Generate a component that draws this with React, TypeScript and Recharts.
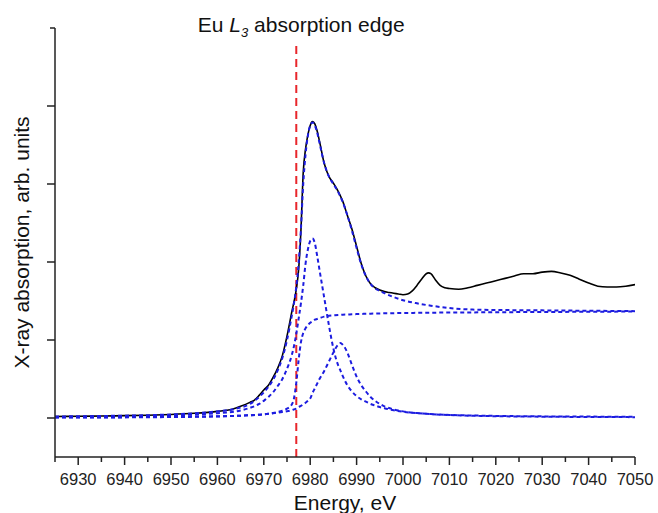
import React from "react";
import { Line, LineChart, ReferenceLine, XAxis, YAxis } from "recharts";

// measured spectrum (black)
const expE = [6925, 6930, 6935, 6940, 6945, 6950, 6955, 6960, 6963, 6965, 6967, 6968, 6969, 6970, 6971, 6972, 6973, 6974, 6975, 6976, 6977, 6977.5, 6978, 6978.5, 6979, 6979.5, 6980, 6980.5, 6981, 6981.5, 6982, 6983, 6984, 6985, 6986, 6987, 6988, 6989, 6990, 6991, 6992, 6993, 6994, 6995, 6996, 6997, 6998, 6999, 7000, 7001, 7002, 7003, 7004, 7005, 7005.5, 7006, 7007, 7008, 7009, 7010, 7012, 7014, 7016, 7018, 7020, 7022, 7024, 7026, 7028, 7030, 7032, 7034, 7036, 7038, 7040, 7042, 7044, 7046, 7048, 7050];
const expMu = [0.02, 0.022, 0.025, 0.03, 0.035, 0.045, 0.06, 0.085, 0.11, 0.15, 0.2, 0.23, 0.29, 0.36, 0.42, 0.52, 0.64, 0.8, 1.05, 1.35, 1.65, 1.9, 2.4, 3.15, 3.45, 3.63, 3.75, 3.8, 3.77, 3.68, 3.55, 3.27, 3.1, 3.01, 2.91, 2.78, 2.6, 2.42, 2.2, 1.98, 1.82, 1.72, 1.67, 1.64, 1.62, 1.61, 1.6, 1.59, 1.58, 1.59, 1.63, 1.7, 1.78, 1.85, 1.86, 1.85, 1.77, 1.7, 1.67, 1.66, 1.65, 1.67, 1.7, 1.73, 1.76, 1.79, 1.82, 1.85, 1.85, 1.87, 1.88, 1.86, 1.83, 1.78, 1.73, 1.69, 1.68, 1.68, 1.69, 1.71];

// fit components (blue dashed)
const fitE = [6925, 6930, 6935, 6940, 6945, 6950, 6955, 6960, 6964, 6967, 6969, 6970, 6971, 6972, 6973, 6974, 6975, 6976, 6976.5, 6977, 6977.5, 6978, 6978.5, 6979, 6979.5, 6980, 6980.5, 6981, 6981.5, 6982, 6983, 6984, 6985, 6986, 6986.5, 6987, 6988, 6989, 6990, 6991, 6992, 6993, 6994, 6995, 6996, 6998, 7000, 7003, 7006, 7010, 7015, 7020, 7030, 7040, 7050];
const fitTotal = [0.02, 0.022, 0.026, 0.03, 0.036, 0.045, 0.06, 0.085, 0.12, 0.18, 0.27, 0.33, 0.4, 0.49, 0.61, 0.77, 1.0, 1.3, 1.47, 1.68, 1.98, 2.42, 3.0, 3.38, 3.62, 3.75, 3.79, 3.75, 3.66, 3.53, 3.27, 3.1, 3.0, 2.9, 2.84, 2.77, 2.6, 2.4, 2.18, 1.97, 1.82, 1.72, 1.66, 1.63, 1.6, 1.55, 1.51, 1.47, 1.44, 1.41, 1.39, 1.385, 1.38, 1.375, 1.37];
const fitPeak1 = [0.012, 0.014, 0.017, 0.021, 0.026, 0.033, 0.044, 0.062, 0.085, 0.13, 0.18, 0.22, 0.27, 0.33, 0.41, 0.5, 0.63, 0.8, 0.92, 1.08, 1.27, 1.47, 1.7, 1.98, 2.16, 2.27, 2.3, 2.24, 2.08, 1.9, 1.55, 1.2, 0.89, 0.68, 0.61, 0.54, 0.42, 0.34, 0.28, 0.24, 0.21, 0.18, 0.16, 0.14, 0.125, 0.1, 0.08, 0.062, 0.05, 0.04, 0.032, 0.027, 0.021, 0.018, 0.016];
const fitPeak2 = [0.005, 0.006, 0.007, 0.008, 0.01, 0.012, 0.015, 0.02, 0.027, 0.035, 0.042, 0.047, 0.053, 0.06, 0.067, 0.076, 0.087, 0.1, 0.11, 0.12, 0.14, 0.155, 0.175, 0.195, 0.22, 0.25, 0.32, 0.38, 0.44, 0.5, 0.6, 0.72, 0.84, 0.94, 0.96, 0.94, 0.84, 0.68, 0.53, 0.42, 0.34, 0.27, 0.22, 0.18, 0.15, 0.11, 0.085, 0.063, 0.05, 0.038, 0.029, 0.023, 0.017, 0.013, 0.011];
const fitStep = [0.008, 0.009, 0.01, 0.011, 0.013, 0.015, 0.018, 0.022, 0.028, 0.035, 0.042, 0.047, 0.055, 0.065, 0.078, 0.095, 0.12, 0.17, 0.25, 0.45, 0.74, 0.97, 1.09, 1.15, 1.19, 1.22, 1.24, 1.26, 1.27, 1.28, 1.3, 1.31, 1.315, 1.32, 1.322, 1.325, 1.327, 1.33, 1.332, 1.334, 1.336, 1.338, 1.34, 1.341, 1.342, 1.344, 1.346, 1.348, 1.35, 1.352, 1.354, 1.356, 1.359, 1.362, 1.365];

const xTicks = [6925, 6930, 6935, 6940, 6945, 6950, 6955, 6960, 6965, 6970, 6975, 6980, 6985, 6990, 6995, 7000, 7005, 7010, 7015, 7020, 7025, 7030, 7035, 7040, 7045, 7050];
const yTicks = [0, 1, 2, 3, 4, 5];
const edgeEnergy = 6977;

const expData = expE.map((e, i) => ({ e, mu: expMu[i] }));
const toSeries = (vals: number[]) => fitE.map((e, i) => ({ e, v: vals[i] }));

const FONT = "'Liberation Sans', Arial, sans-serif";
const BLUE = "#1c1ce0";

function XTick({ x, y, payload }: any) {
  const major = payload.value % 10 === 0;
  return (
    <g>
      <line x1={x} y1={y} x2={x} y2={y + (major ? 8 : 5)} stroke="#222" strokeWidth={1.5} />
      {major && (
        <text x={x} y={y + 28} textAnchor="middle" fontSize={16.5} fill="#222" fontFamily={FONT}>
          {payload.value}
        </text>
      )}
    </g>
  );
}

function YTick({ x, y, payload }: any) {
  const len = payload.value === 5 ? 5 : 8;
  return <line x1={x} y1={y} x2={x - len} y2={y} stroke="#222" strokeWidth={1.5} />;
}

function TitleLabel({ viewBox }: any) {
  return (
    <text x={viewBox.x + 5} y={viewBox.y - 10} textAnchor="middle" fontSize={21} fill="#111" fontFamily={FONT}>
      Eu{" "}
      <tspan fontStyle="italic">L</tspan>
      <tspan fontStyle="italic" fontSize={13} dy={5}>3</tspan>
      <tspan dy={-5}> absorption edge</tspan>
    </text>
  );
}

export default function App() {
  return (
    <div style={{ width: 658, height: 513, background: "#fff" }}>
      <style>{"body{margin:0}"}</style>
      <LineChart width={658} height={513} margin={{ top: 28, right: 23, bottom: 0, left: 0 }}>
        <XAxis
          type="number"
          dataKey="e"
          domain={[6925, 7050]}
          allowDataOverflow
          ticks={xTicks}
          interval={0}
          tickSize={0}
          tickMargin={0}
          tickLine={false}
          tick={<XTick />}
          height={56}
          stroke="#222"
          strokeWidth={1.5}
          label={{
            content: ({ viewBox }: any) => (
              <text x={viewBox.x + viewBox.width / 2} y={viewBox.y + 53} textAnchor="middle" fontSize={21} fill="#111" fontFamily={FONT}>
                Energy, eV
              </text>
            ),
          }}
        />
        <YAxis
          type="number"
          domain={[-0.5, 5]}
          allowDataOverflow
          ticks={yTicks}
          interval={0}
          tickSize={0}
          tickMargin={0}
          tickLine={false}
          tick={<YTick />}
          width={55}
          stroke="#222"
          strokeWidth={1.5}
          label={{
            content: ({ viewBox }: any) => (
              <text
                transform={`translate(${viewBox.x + 21}, ${viewBox.y + viewBox.height / 2}) rotate(-90)`}
                textAnchor="middle"
                dominantBaseline="central"
                fontSize={21}
                fill="#111"
                fontFamily={FONT}
              >
                X-ray absorption, arb. units
              </text>
            ),
          }}
        />
        <ReferenceLine
          segment={[{ x: edgeEnergy, y: -0.5 }, { x: edgeEnergy, y: 4.82 }]}
          stroke="#e8262b"
          strokeWidth={2}
          strokeDasharray="8 5"
          label={<TitleLabel />}
        />
        <Line data={expData} dataKey="mu" type="monotone" stroke="#000" strokeWidth={1.6} dot={false} isAnimationActive={false} />
        <Line data={toSeries(fitStep)} dataKey="v" type="monotone" stroke={BLUE} strokeWidth={2} strokeDasharray="4 3" dot={false} isAnimationActive={false} />
        <Line data={toSeries(fitPeak2)} dataKey="v" type="monotone" stroke={BLUE} strokeWidth={2} strokeDasharray="4 3" dot={false} isAnimationActive={false} />
        <Line data={toSeries(fitPeak1)} dataKey="v" type="monotone" stroke={BLUE} strokeWidth={2} strokeDasharray="4 3" dot={false} isAnimationActive={false} />
        <Line data={toSeries(fitTotal)} dataKey="v" type="monotone" stroke={BLUE} strokeWidth={2} strokeDasharray="4 3" dot={false} isAnimationActive={false} />
      </LineChart>
    </div>
  );
}
